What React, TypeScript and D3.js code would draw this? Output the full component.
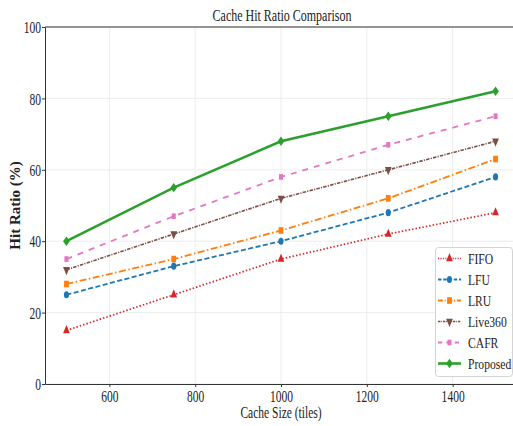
import React, { useEffect, useRef } from "react"
import * as d3 from "d3"

const cacheSizes = [500, 750, 1000, 1250, 1500]
const fifo = [15, 25, 35, 42, 48]
const lfu = [25, 33, 40, 48, 58]
const lru = [28, 35, 43, 52, 63]
const live360 = [32, 42, 52, 60, 68]
const cafr = [35, 47, 58, 67, 75]
const proposed = [40, 55, 68, 75, 82]
const xTicks = [600, 800, 1000, 1200, 1400]
const yTicks = [0, 20, 40, 60, 80, 100]

const series = [
  { name: "FIFO", values: fifo, color: "#d62728", dash: "1.5,2", marker: "triangle", width: 1.7 },
  { name: "LFU", values: lfu, color: "#1f77b4", dash: "5,2.5", marker: "circle", width: 1.8 },
  { name: "LRU", values: lru, color: "#ff7f0e", dash: "7,2.5,1.5,2.5", marker: "square", width: 1.8 },
  { name: "Live360", values: live360, color: "#7d4e45", dash: "3.5,1.2,1.2,1.2", marker: "triangleDown", width: 1.6 },
  { name: "CAFR", values: cafr, color: "#e377c2", dash: "6,6", marker: "squareSmall", width: 1.8 },
  { name: "Proposed", values: proposed, color: "#2ca02c", dash: null, marker: "diamond", width: 2.6 },
]

const SQ = 0.72 // the picture is narrower than it is tall

const symbolFor = (m: string) => {
  switch (m) {
    case "triangle":
    case "triangleDown":
      return d3.symbol().type(d3.symbolTriangle).size(38)
    case "circle":
      return d3.symbol().type(d3.symbolCircle).size(40)
    case "square":
      return d3.symbol().type(d3.symbolSquare).size(44)
    case "squareSmall":
      return d3.symbol().type(d3.symbolSquare).size(32)
    default:
      return d3.symbol().type(d3.symbolSquare).size(44)
  }
}

const markerTransform = (m: string, px: number, py: number) => {
  let t = "translate(" + px + "," + py + ") scale(" + SQ + ",1)"
  if (m === "triangleDown") t += " rotate(180)"
  if (m === "diamond") t += " rotate(45)"
  return t
}

export default function App() {
  const ref = useRef<SVGSVGElement>(null)

  useEffect(() => {
    document.body.style.margin = "0"
    const width = 513
    const height = 426
    const margin = { top: 27, right: -4, bottom: 42, left: 45 }
    const font = "Liberation Serif, Times New Roman, serif"
    const svg = d3.select(ref.current).attr("width", width).attr("height", height)
    svg.selectAll("*").remove()

    const x = d3.scaleLinear().domain([450, 1550]).range([margin.left, width - margin.right])
    const y = d3.scaleLinear().domain([0, 100]).range([height - margin.bottom, margin.top])

    const addText = (g: any, tx: number, ty: number, str: string, size: number, anchor: string, sx: number) =>
      g
        .append("text")
        .attr("transform", "translate(" + tx + "," + ty + ") scale(" + sx + ",1)")
        .attr("text-anchor", anchor)
        .style("font-family", font)
        .style("font-size", size + "px")
        .attr("fill", "#222")
        .text(str)

    svg.append("rect").attr("width", width).attr("height", height).attr("fill", "white")

    // grid
    const grid = svg.append("g").attr("stroke", "#e8e8e8").attr("stroke-width", 0.8)
    xTicks.forEach(t => {
      grid.append("line").attr("x1", x(t)).attr("x2", x(t)).attr("y1", y(0)).attr("y2", y(100))
    })
    yTicks.forEach(t => {
      grid.append("line").attr("x1", x(450)).attr("x2", x(1550)).attr("y1", y(t)).attr("y2", y(t))
    })

    // axes
    const xAxis = svg
      .append("g")
      .attr("transform", "translate(0," + y(0) + ")")
      .call(d3.axisBottom(x).tickValues(xTicks).tickFormat(d3.format("d")).tickSize(3).tickSizeOuter(0))
    xAxis.selectAll(".tick text").attr("y", 18).attr("dy", null)
    const yAxis = svg
      .append("g")
      .attr("transform", "translate(" + x(450) + ",0)")
      .call(d3.axisLeft(y).tickValues(yTicks).tickFormat(d3.format("d")).tickSize(3).tickSizeOuter(0))
    yAxis.selectAll(".tick text").attr("x", -4 / SQ).attr("dy", "0.35em")
    ;[xAxis, yAxis].forEach(a => {
      a.attr("font-family", null).attr("font-size", null)
      a.select(".domain").attr("stroke", "#333").attr("stroke-width", 1)
      a.selectAll(".tick line").attr("stroke", "#333")
      a.selectAll(".tick text")
        .attr("transform", "scale(" + SQ + ",1)")
        .style("font-family", font)
        .style("font-size", "16px")
        .attr("fill", "#222")
    })
    svg
      .append("line")
      .attr("x1", x(450))
      .attr("x2", x(1550))
      .attr("y1", y(100))
      .attr("y2", y(100))
      .attr("stroke", "#333")

    // lines
    const line = d3
      .line<number>()
      .x((d, i) => x(cacheSizes[i]))
      .y(d => y(d))

    series.forEach(s => {
      svg
        .append("path")
        .attr("d", line(s.values))
        .attr("fill", "none")
        .attr("stroke", s.color)
        .attr("stroke-width", s.width)
        .attr("stroke-dasharray", s.dash)
      const sym = symbolFor(s.marker)
      svg
        .append("g")
        .selectAll("path")
        .data(s.values)
        .enter()
        .append("path")
        .attr("d", sym() as string)
        .attr("fill", s.color)
        .attr("transform", (d, i) => markerTransform(s.marker, x(cacheSizes[i]), y(d)))
    })

    // title and labels
    const midX = (x(450) + x(1550)) / 2
    addText(svg, 282, 21, "Cache Hit Ratio Comparison", 16, "middle", 0.75)
    addText(svg, midX, 418, "Cache Size (tiles)", 16, "middle", SQ)
    svg
      .append("text")
      .attr("transform", "translate(20," + (y(0) + y(100)) / 2 + ") rotate(-90)")
      .attr("text-anchor", "middle")
      .style("font-family", font)
      .style("font-weight", "bold")
      .style("font-size", "15px")
      .attr("fill", "#222")
      .text("Hit Ratio (%)")

    // legend
    const legend = svg.append("g").attr("transform", "translate(435,247)")
    legend
      .append("rect")
      .attr("x", 0.5)
      .attr("y", 0.5)
      .attr("width", 77)
      .attr("height", 129)
      .attr("rx", 3)
      .attr("fill", "white")
      .attr("fill-opacity", 0.85)
      .attr("stroke", "#d4d4d4")
    series.forEach((s, i) => {
      const ly = 11.5 + i * 21
      legend
        .append("line")
        .attr("x1", 3)
        .attr("x2", 26)
        .attr("y1", ly)
        .attr("y2", ly)
        .attr("stroke", s.color)
        .attr("stroke-width", s.width)
        .attr("stroke-dasharray", s.dash ? s.dash.split(",").map(v => +v * 0.7).join(",") : null)
      legend
        .append("path")
        .attr("d", symbolFor(s.marker)() as string)
        .attr("fill", s.color)
        .attr("transform", markerTransform(s.marker, 14.5, ly))
      addText(legend, 33, ly + 5, s.name, 15.5, "start", 0.75)
    })
  }, [])

  return <svg ref={ref} style={{ display: "block" }}></svg>
}
